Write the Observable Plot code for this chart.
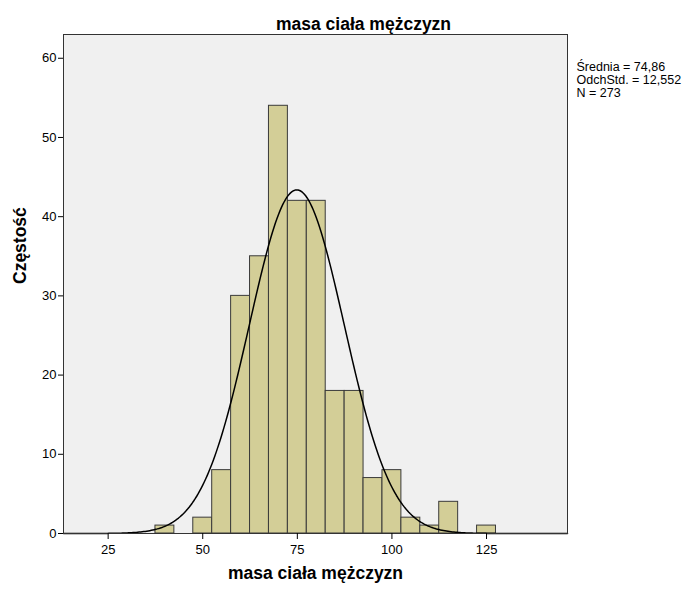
<!DOCTYPE html>
<html><head><meta charset="utf-8">
<script src="https://cdn.jsdelivr.net/npm/d3@7"></script>
<script src="https://cdn.jsdelivr.net/npm/@observablehq/plot@0.6"></script>
<style>body{margin:0;background:#fff;font-family:"Liberation Sans",Arial,sans-serif}</style>
</head><body><div id="chart"></div>
<script>
// Histogram bins (lower edge) and counts
const binStart = [37.5, 42.5, 47.5, 52.5, 57.5, 62.5, 67.5, 72.5, 77.5, 82.5, 87.5, 92.5, 97.5, 102.5, 107.5, 112.5, 117.5, 122.5];
const counts   = [1, 0, 2, 8, 30, 35, 54, 42, 42, 18, 18, 7, 8, 2, 1, 4, 0, 1];
const binWidth = 5;
const xTicks = [25, 50, 75, 100, 125];
const yTicks = [0, 10, 20, 30, 40, 50, 60];
// Summary statistics shown in the legend (used for the fitted normal curve)
const mean = 74.86, sd = 12.552, n = 273;
const statsLines = ["Średnia = 74,86", "OdchStd. = 12,552", "N = 273"];
const titleText = "masa ciała mężczyzn";
const xLabel = "masa ciała mężczyzn";
const yLabel = "Częstość";

const xDomain = [13.2, 146.4];
const bins = binStart.map((s, i) => ({x1: s, x2: s + binWidth, y: counts[i]})).filter(d => d.y > 0);
const curve = d3.range(xDomain[0], xDomain[1] + 0.01, 0.4).map(x => ({
  x, y: n * binWidth * Math.exp(-0.5 * ((x - mean) / sd) ** 2) / (sd * Math.sqrt(2 * Math.PI))
}));

const font = "Liberation Sans, Arial, sans-serif";
const chart = Plot.plot({
  width: 690, height: 590,
  marginTop: 34, marginLeft: 63, marginRight: 123, marginBottom: 57,
  style: {fontFamily: font, fontSize: "13px", color: "#000", background: "#fff", overflow: "visible"},
  x: {domain: xDomain, label: null},
  y: {domain: [0, 63], label: null},
  marks: [
    Plot.frame({fill: "#f0f0f0"}),
    Plot.rectY(bins, {x1: "x1", x2: "x2", y: "y", fill: "#d3ce97", stroke: "#3a3a3a", strokeWidth: 1}),
    Plot.line(curve, {x: "x", y: "y", stroke: "#000", strokeWidth: 1.5}),
    Plot.frame({stroke: "#333", strokeWidth: 1}),
    Plot.axisX({ticks: xTicks, tickSize: 6, tickPadding: 5, label: null, fontSize: 13, tickFormat: d => d}),
    Plot.axisY({ticks: yTicks, tickSize: 5, tickPadding: 2, label: null, fontSize: 13, tickFormat: d => d}),
    Plot.text([titleText], {text: d => d, frameAnchor: "top", dx: 48, dy: -17, fontSize: 17.5, fontWeight: "bold"}),
    Plot.text([xLabel], {text: d => d, frameAnchor: "bottom", dy: 45, fontSize: 17.5, fontWeight: "bold"}),
    Plot.text([yLabel], {text: d => d, frameAnchor: "left", dx: -43, rotate: -90, fontSize: 17.5, fontWeight: "bold"}),
    Plot.text([statsLines.join("\n")], {text: d => d, frameAnchor: "top-right", dx: 9, dy: 27, textAnchor: "start", lineAnchor: "top", lineHeight: 1.04, fontSize: 12.5})
  ]
});
document.getElementById("chart").appendChild(chart);
</script></body></html>
